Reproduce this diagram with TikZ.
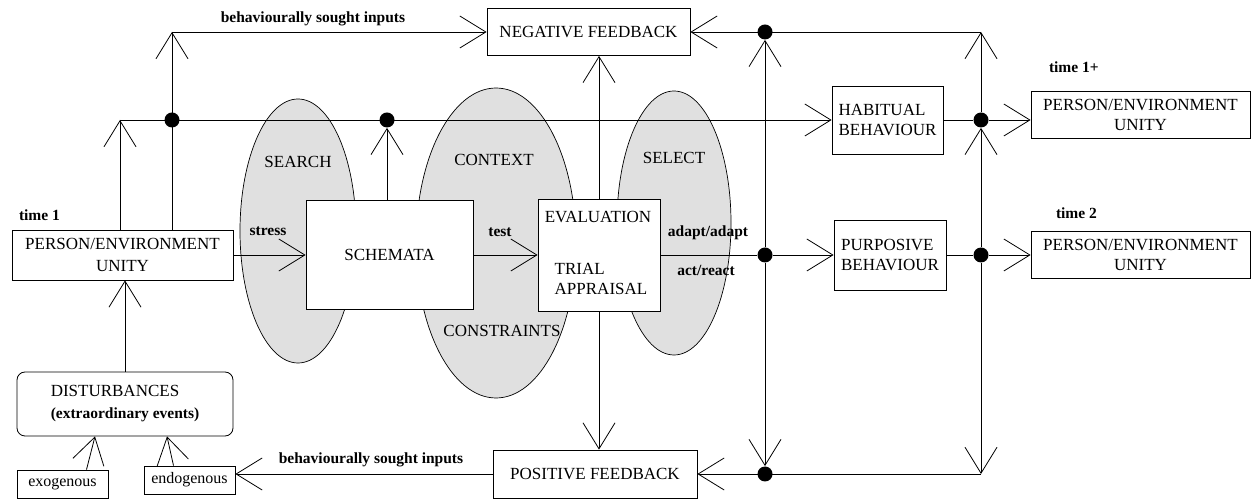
\documentclass[tikz,border=0pt]{standalone}
\usepackage{fontspec}
\setmainfont{Liberation Serif}
\usetikzlibrary{arrows.meta, positioning}

\begin{document}
\begin{tikzpicture}[
  x=1pt, y=1pt, line width=0.8pt,
  box/.style={rectangle, draw, fill=white, inner sep=2pt, align=center,
    font=\fontsize{17}{20}\selectfont},
  boxtext/.style={inner sep=0pt, font=\fontsize{17}{20}\selectfont},
  lbl/.style={inner sep=1pt, font=\fontsize{15.5}{18}\selectfont\bfseries},
  zone/.style={draw, fill=black!12, line width=0.7pt},
  jdot/.style={circle, fill=black, inner sep=0pt, minimum size=15pt},
  arr/.style={-{Straight Barb[length=26pt, width=32pt]}}
]
\useasboundingbox (0,0) rectangle (1252,500);

% shaded zones
\filldraw[zone] (298,269) ellipse [x radius=58, y radius=132];
\filldraw[zone] (496,257) ellipse [x radius=80, y radius=155];
\filldraw[zone] (674,277) ellipse [x radius=57, y radius=132];
\node[boxtext] (search) at (298,338) {SEARCH};
\node[boxtext] (context) at (494,340) {CONTEXT};
\node[boxtext] (constr) at (502,169) {CONSTRAINTS};
\node[boxtext] (select) at (674,342) {SELECT};

% boxes
\node[box, minimum width=221pt, minimum height=50pt, font=\fontsize{17}{22}\selectfont] (pe1) at (122.5,245) {PERSON/ENVIRONMENT\\UNITY};
\node[box, rounded corners=8pt, align=left, minimum width=216pt, minimum height=64pt, font=\fontsize{17}{22}\selectfont] (dist) at (125,96) {DISTURBANCES\\{\fontsize{15.5}{18}\selectfont\bfseries (extraordinary events)}};
\node[box, minimum width=91pt, minimum height=28pt, font=\fontsize{16}{18}\selectfont] (exo) at (62.5,16) {exogenous};
\node[box, minimum width=91pt, minimum height=28pt, font=\fontsize{16}{18}\selectfont] (endo) at (189.5,20) {endogenous};
\node[box, minimum width=167pt, minimum height=109pt] (schem) at (389.5,245) {SCHEMATA};
\node[box, minimum width=122pt, minimum height=112pt] (eval) at (599,245) {};
\node[boxtext] (evtop) at (598,283) {EVALUATION};
\node[boxtext, align=left] (evtrial) at (601,221) {TRIAL\\APPRAISAL};
\node[box, minimum width=203pt, minimum height=47pt] (neg) at (588.5,468) {NEGATIVE FEEDBACK};
\node[box, minimum width=204pt, minimum height=48pt] (pos) at (595,26) {POSITIVE FEEDBACK};
\node[box, align=left, minimum width=111pt, minimum height=68pt] (hab) at (887.5,380) {HABITUAL\\BEHAVIOUR};
\node[box, align=left, minimum width=112pt, minimum height=70pt] (pur) at (890,245) {PURPOSIVE\\BEHAVIOUR};
\node[box, minimum width=219pt, minimum height=47pt] (pe1p) at (1140.5,385) {PERSON/ENVIRONMENT\\UNITY};
\node[box, minimum width=219pt, minimum height=47pt] (pe2) at (1140.5,245) {PERSON/ENVIRONMENT\\UNITY};

% junctions and corners
\node[jdot] (j1) at (172,380) {};
\node[jdot] (j2) at (387,380) {};
\node[jdot] (j3) at (765,468) {};
\node[jdot] (j4) at (765,245) {};
\node[jdot] (j5) at (765,26) {};
\node[jdot] (j6) at (981,380) {};
\node[jdot] (j7) at (981,245) {};
\coordinate (c1) at (120,380);
\coordinate (c2) at (172,468);
\coordinate (c3) at (981,468);
\coordinate (c4) at (981,26);

% labels
\node[lbl] (bsi1) at (313,481) {behaviourally sought inputs};
\node[lbl] (bsi2) at (371,40) {behaviourally sought inputs};
\node[lbl, above right=8pt and 6pt of pe1.north west] (t1) {time 1};
\node[lbl, above right=17pt and 17pt of pe1p.north west] (t1p) {time 1+};
\node[lbl, above right=11pt and 24pt of pe2.north west] (t2) {time 2};
\node[lbl] (stress) at (268,269) {stress};
\node[lbl] (test) at (500,268) {test};
\node[lbl] (adapt) at (708,267) {adapt/adapt};
\node[lbl] (react) at (706,230) {act/react};

% connectors
\draw[arr] (pe1.north -| c1) -- (c1);
\draw[arr] (c1) -- (hab.west);
\draw[arr] (pe1.north -| c2) -- (c2);
\draw[arr] (c2) -- (neg.west);
\draw[arr] (schem.north -| j2) -- (j2);
\draw[arr] (dist.north) -- (dist.north |- pe1.south);
\draw[arr] ([xshift=24pt]exo.north) -- ([xshift=-30pt]dist.south);
\draw[arr] ([xshift=-16pt]endo.north) -- ([xshift=42pt]dist.south);
\draw[arr] (pos.west) -- (pos.west -| endo.east);
\draw[arr] (pe1.east) -- (schem.west);
\draw[arr] (schem.east) -- (eval.west);
\draw (eval.east) -- (j4);
\draw[arr] (j4) -- (pur.west);
\draw (pur.east) -- (j7);
\draw[arr] (j7) -- (pe2.west);
\draw (hab.east) -- (j6);
\draw[arr] (j6) -- (pe1p.west |- j6);
\draw[arr] (eval.north) -- (eval.north |- neg.south);
\draw[arr] (eval.south) -- (eval.south |- pos.north);
\draw[arr] (j4) -- (j3);
\draw[arr] (j4) -- (j5);
\draw[arr] (j7) -- (j6);
\draw[arr] (j6) -- (c3);
\draw[arr] (j7) -- (c4);
\draw[arr] (c3) -- (neg.east);
\draw[arr] (c4) -- (pos.east);
\end{tikzpicture}
\end{document}
